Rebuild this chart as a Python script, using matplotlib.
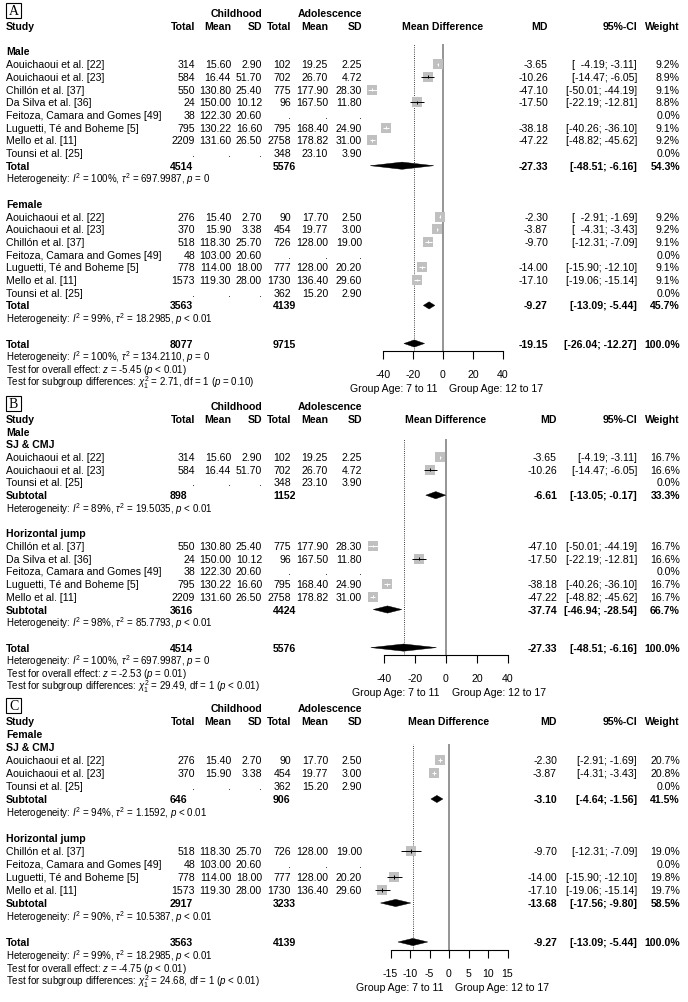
import matplotlib
matplotlib.use("Agg")
import matplotlib.pyplot as plt
from matplotlib.patches import Polygon, Rectangle

plt.rcParams['font.family'] = ['Liberation Sans', 'DejaVu Sans']
plt.rcParams['mathtext.fontset'] = 'custom'
plt.rcParams['mathtext.rm'] = 'Liberation Sans'
plt.rcParams['mathtext.it'] = 'Liberation Sans:italic'
plt.rcParams['mathtext.bf'] = 'Liberation Sans:bold'
plt.rcParams['mathtext.sf'] = 'Liberation Sans'

# ---------------------------------------------------------------- data
male_study = ["Aouichaoui et al. [22]", "Aouichaoui et al. [23]", "Chillón et al. [37]",
              "Da Silva et al. [36]", "Feitoza, Camara and Gomes [49]",
              "Luguetti, Té and Boheme [5]", "Mello et al. [11]", "Tounsi et al. [25]"]
male_c_n = [314, 584, 550, 24, 38, 795, 2209, None]
male_c_mean = [15.60, 16.44, 130.80, 150.00, 122.30, 130.22, 131.60, None]
male_c_sd = [2.90, 51.70, 25.40, 10.12, 20.60, 16.60, 26.50, None]
male_a_n = [102, 702, 775, 96, None, 795, 2758, 348]
male_a_mean = [19.25, 26.70, 177.90, 167.50, None, 168.40, 178.82, 23.10]
male_a_sd = [2.25, 4.72, 28.30, 11.80, None, 24.90, 31.00, 3.90]
male_md = [-3.65, -10.26, -47.10, -17.50, None, -38.18, -47.22, None]
male_lo = [-4.19, -14.47, -50.01, -22.19, None, -40.26, -48.82, None]
male_hi = [-3.11, -6.05, -44.19, -12.81, None, -36.10, -45.62, None]

female_study = ["Aouichaoui et al. [22]", "Aouichaoui et al. [23]", "Chillón et al. [37]",
                "Feitoza, Camara and Gomes [49]", "Luguetti, Té and Boheme [5]",
                "Mello et al. [11]", "Tounsi et al. [25]"]
female_c_n = [276, 370, 518, 48, 778, 1573, None]
female_c_mean = [15.40, 15.90, 118.30, 103.00, 114.00, 119.30, None]
female_c_sd = [2.70, 3.38, 25.70, 20.60, 18.00, 28.00, None]
female_a_n = [90, 454, 726, None, 777, 1730, 362]
female_a_mean = [17.70, 19.77, 128.00, None, 128.00, 136.40, 15.20]
female_a_sd = [2.50, 3.00, 19.00, None, 20.20, 29.60, 2.90]
female_md = [-2.30, -3.87, -9.70, None, -14.00, -17.10, None]
female_lo = [-2.91, -4.31, -12.31, None, -15.90, -19.06, None]
female_hi = [-1.69, -3.43, -7.09, None, -12.10, -15.14, None]

# Panel A (by sex)
A_male_w = [9.2, 8.9, 9.1, 8.8, 0.0, 9.1, 9.2, 0.0]
A_female_w = [9.2, 9.2, 9.1, 0.0, 9.1, 9.1, 0.0]
A_sub_cn = [4514, 3563]
A_sub_an = [5576, 4139]
A_sub_md = [-27.33, -9.27]
A_sub_lo = [-48.51, -13.09]
A_sub_hi = [-6.16, -5.44]
A_sub_w = [54.3, 45.7]
A_sub_het = [r"Heterogeneity: $I^2$ = 100%, $\tau^2$ = 697.9987, $p$ = 0",
             r"Heterogeneity: $I^2$ = 99%, $\tau^2$ = 18.2985, $p$ < 0.01"]
A_tot = [8077, 9715, -19.15, -26.04, -12.27, 100.0]
A_tests = [r"Heterogeneity: $I^2$ = 100%, $\tau^2$ = 134.2110, $p$ = 0",
           r"Test for overall effect: $z$ = -5.45 ($p$ < 0.01)",
           r"Test for subgroup differences: $\chi^2_1$ = 2.71, df = 1 ($p$ = 0.10)"]

# Panel B (male, by test)
B_sj_idx = [0, 1, 7]
B_hj_idx = [2, 3, 4, 5, 6]
B_sj_w = [16.7, 16.6, 0.0]
B_hj_w = [16.7, 16.6, 0.0, 16.7, 16.7]
B_sub_cn = [898, 3616]
B_sub_an = [1152, 4424]
B_sub_md = [-6.61, -37.74]
B_sub_lo = [-13.05, -46.94]
B_sub_hi = [-0.17, -28.54]
B_sub_w = [33.3, 66.7]
B_sub_het = [r"Heterogeneity: $I^2$ = 89%, $\tau^2$ = 19.5035, $p$ < 0.01",
             r"Heterogeneity: $I^2$ = 98%, $\tau^2$ = 85.7793, $p$ < 0.01"]
B_tot = [4514, 5576, -27.33, -48.51, -6.16, 100.0]
B_tests = [r"Heterogeneity: $I^2$ = 100%, $\tau^2$ = 697.9987, $p$ = 0",
           r"Test for overall effect: $z$ = -2.53 ($p$ = 0.01)",
           r"Test for subgroup differences: $\chi^2_1$ = 29.49, df = 1 ($p$ < 0.01)"]

# Panel C (female, by test)
C_sj_idx = [0, 1, 6]
C_hj_idx = [2, 3, 4, 5]
C_sj_w = [20.7, 20.8, 0.0]
C_hj_w = [19.0, 0.0, 19.8, 19.7]
C_sub_cn = [646, 2917]
C_sub_an = [906, 3233]
C_sub_md = [-3.10, -13.68]
C_sub_lo = [-4.64, -17.56]
C_sub_hi = [-1.56, -9.80]
C_sub_w = [41.5, 58.5]
C_sub_het = [r"Heterogeneity: $I^2$ = 94%, $\tau^2$ = 1.1592, $p$ < 0.01",
             r"Heterogeneity: $I^2$ = 90%, $\tau^2$ = 10.5387, $p$ < 0.01"]
C_tot = [3563, 4139, -9.27, -13.09, -5.44, 100.0]
C_tests = [r"Heterogeneity: $I^2$ = 99%, $\tau^2$ = 18.2985, $p$ < 0.01",
           r"Test for overall effect: $z$ = -4.75 ($p$ < 0.01)",
           r"Test for subgroup differences: $\chi^2_1$ = 24.68, df = 1 ($p$ < 0.01)"]

A_ticks = [-40, -20, 0, 20, 40]
B_ticks = [-40, -20, 0, 20, 40]
C_ticks = [-15, -10, -5, 0, 5, 10, 15]
group_left = "Group Age: 7 to 11"
group_right = "Group Age: 12 to 17"

# ---------------------------------------------------------------- figure
W, H = 688, 1003
fig = plt.figure(figsize=(W / 100, H / 100), dpi=100)
base = fig.add_axes([0, 0, 1, 1])
base.set_xlim(0, W)
base.set_ylim(H, 0)
base.axis('off')

FS = 7.6
FSH = 7.0
X_STUDY = 6
COL = dict(cn=195, cm=231, cs=262, an=291, am=328, asd=362, ci=637, w=680)
TOTX_C = 170
TOTX_A = 273


def T(x, y, s, ha='left', bold=False, size=FS):
    base.text(x, y, s, ha=ha, va='center', fontsize=size,
              fontweight='bold' if bold else 'normal', color='black')


def fnum(v, dec=2):
    if v is None:
        return "."
    return str(v) if dec == 0 else f"{v:.{dec}f}"


def fci(lo, hi, pad):
    if pad:
        return f"[{lo:6.2f}; {hi:.2f}]".replace("[ ", "[  ")
    return f"[{lo:.2f}; {hi:.2f}]"


def data_of(src):
    if src == 'male':
        return (male_study, male_c_n, male_c_mean, male_c_sd, male_a_n, male_a_mean,
                male_a_sd, male_md, male_lo, male_hi)
    return (female_study, female_c_n, female_c_mean, female_c_sd, female_a_n,
            female_a_mean, female_a_sd, female_md, female_lo, female_hi)


def draw_panel(P):
    y0, s = P['y0'], P['s']
    Y = lambda r: y0 + r * s
    mdx = P['mdx']
    # panel letter
    yb = Y(-1) - 3
    base.add_patch(Rectangle((6, yb - 7.5), 15, 15, fill=False, ec='black', lw=0.8))
    base.text(13.5, yb + 0.5, P['label'], ha='center', va='center', fontsize=10,
              family=['Liberation Serif', 'DejaVu Serif'])
    # headers
    T(COL['cs'], Y(-1), "Childhood", ha='right', bold=True)
    T(COL['asd'], Y(-1), "Adolescence", ha='right', bold=True)
    T(X_STUDY, Y(0), "Study", bold=True)
    for key, lab in [('cn', 'Total'), ('cm', 'Mean'), ('cs', 'SD'),
                     ('an', 'Total'), ('am', 'Mean'), ('asd', 'SD')]:
        T(COL[key], Y(0), lab, ha='right', bold=True)
    T(P['zero'], Y(0), "Mean Difference", ha='center', bold=True)
    T(mdx, Y(0), "MD", ha='right', bold=True)
    T(COL['ci'], Y(0), "95%-CI", ha='right', bold=True)
    T(COL['w'], Y(0), "Weight", ha='right', bold=True)
    if P['title']:
        T(X_STUDY, Y(1), P['title'], bold=True)

    marks = []   # (row, kind, md, lo, hi, w)
    r = 2
    for g in P['groups']:
        T(X_STUDY, Y(r), g['title'], bold=True)
        r += 1
        st, cn, cm, cs, an, am, asd, md, lo, hi = data_of(g['src'])
        for k, i in enumerate(g['idx']):
            y = Y(r)
            T(X_STUDY, y, st[i])
            T(COL['cn'], y, fnum(cn[i], 0), ha='right')
            T(COL['cm'], y, fnum(cm[i]), ha='right')
            T(COL['cs'], y, fnum(cs[i]), ha='right')
            T(COL['an'], y, fnum(an[i], 0), ha='right')
            T(COL['am'], y, fnum(am[i]), ha='right')
            T(COL['asd'], y, fnum(asd[i]), ha='right')
            if md[i] is not None:
                T(mdx, y, f"{md[i]:.2f}", ha='right')
                T(COL['ci'], y, fci(lo[i], hi[i], P['pad']), ha='right')
                marks.append((r, 'sq', md[i], lo[i], hi[i], g['w'][k]))
            T(COL['w'], y, f"{g['w'][k]:.1f}%", ha='right')
            r += 1
        y = Y(r)
        T(X_STUDY, y, g['lab'], bold=True)
        T(TOTX_C, y, str(g['cn']), bold=True)
        T(TOTX_A, y, str(g['an']), bold=True)
        T(mdx, y, f"{g['md']:.2f}", ha='right', bold=True)
        T(COL['ci'], y, fci(g['lo'], g['hi'], P['pad']), ha='right', bold=True)
        T(COL['w'], y, f"{g['wt']:.1f}%", ha='right', bold=True)
        marks.append((r, 'dm', g['md'], g['lo'], g['hi'], g['wt']))
        r += 1
        T(X_STUDY, Y(r), g['het'], size=FSH)
        r += 2
    # overall
    tcn, tan_, tmd, tlo, thi, tw = P['tot']
    r_tot = r
    y = Y(r)
    T(X_STUDY, y, "Total", bold=True)
    T(TOTX_C, y, str(tcn), bold=True)
    T(TOTX_A, y, str(tan_), bold=True)
    T(mdx, y, f"{tmd:.2f}", ha='right', bold=True)
    T(COL['ci'], y, fci(tlo, thi, P['pad']), ha='right', bold=True)
    T(COL['w'], y, f"{tw:.1f}%", ha='right', bold=True)
    marks.append((r, 'dm', tmd, tlo, thi, tw))
    for j, line in enumerate(P['tests']):
        T(X_STUDY, Y(r + 1 + j), line, size=FSH)

    # forest axes
    r_top = P['line_top']
    r_axis = r_tot + P['axis_off']
    ppu = P['ppu']
    xmin, xmax = P['xlim']
    left = (P['zero'] + xmin * ppu) / W
    width = (xmax - xmin) * ppu / W
    ytop, ybot = Y(r_top), Y(r_axis)
    ax = fig.add_axes([left, 1 - ybot / H, width, (ybot - ytop) / H])
    ax.set_xlim(xmin, xmax)
    ax.set_ylim(r_axis, r_top)
    ax.patch.set_alpha(0)
    for sp in ['top', 'left', 'right']:
        ax.spines[sp].set_visible(False)
    ax.spines['bottom'].set_bounds(P['ticks'][0], P['ticks'][-1])
    ax.spines['bottom'].set_linewidth(0.8)
    ax.set_yticks([])
    ax.set_xticks(P['ticks'])
    ax.set_xticklabels([str(t) for t in P['ticks']])
    ax.tick_params(axis='x', direction='out', length=6, width=0.8, pad=7,
                   labelsize=FS)
    ax.axvline(0, color='#8c8c8c', lw=1.3, zorder=1)
    ax.axvline(tmd, color='black', lw=0.6, ls=(0, (1, 1.6)), zorder=1)
    wmax = max(m[5] for m in marks if m[1] == 'sq')
    hh = P['dh'] / s
    for (rr, kind, md, lo, hi, w) in marks:
        if kind == 'sq':
            side = P['sq'] * (w / wmax) ** 0.5
            ax.plot([md], [rr], marker='s', ms=side * 0.72, mew=0, color='#c0c0c0',
                    zorder=3, clip_on=False)
            inside = (hi - lo) * ppu < side
            c = 'white' if inside else 'black'
            ax.plot([lo, hi], [rr, rr], color=c, lw=0.7, zorder=4, clip_on=False,
                    solid_capstyle='butt')
            tk = 0.3 * side / s
            ax.plot([md, md], [rr - tk / 2, rr + tk / 2], color=c, lw=0.7, zorder=4,
                    clip_on=False, solid_capstyle='butt')
        else:
            ax.add_patch(Polygon([[lo, rr], [md, rr - hh], [hi, rr], [md, rr + hh]],
                                 closed=True, fc='black', ec='black', lw=0.3,
                                 zorder=5, clip_on=False))
    yg = Y(r_tot + P['group_off'])
    T(P['zero'] - 6, yg, group_left, ha='right')
    T(P['zero'] + 6, yg, group_right, ha='left')


panelA = dict(label='A', y0=27, s=12.7, zero=443, ppu=1.5, xlim=(-62, 62),
              ticks=A_ticks, mdx=548, pad=True, title=None, sq=9.5, dh=3.6,
              line_top=1.4, axis_off=0.6, group_off=3.5, tot=A_tot, tests=A_tests,
              groups=[dict(title='Male', src='male', idx=list(range(8)), w=A_male_w,
                           lab='Total', cn=A_sub_cn[0], an=A_sub_an[0], md=A_sub_md[0],
                           lo=A_sub_lo[0], hi=A_sub_hi[0], wt=A_sub_w[0], het=A_sub_het[0]),
                      dict(title='Female', src='female', idx=list(range(7)), w=A_female_w,
                           lab='Total', cn=A_sub_cn[1], an=A_sub_an[1], md=A_sub_md[1],
                           lo=A_sub_lo[1], hi=A_sub_hi[1], wt=A_sub_w[1], het=A_sub_het[1])])

panelB = dict(label='B', y0=420, s=12.7, zero=446, ppu=1.55, xlim=(-62, 62),
              ticks=B_ticks, mdx=557, pad=False, title='Male', sq=9.5, dh=3.6,
              line_top=1.6, axis_off=0.6, group_off=3.5, tot=B_tot, tests=B_tests,
              groups=[dict(title='SJ & CMJ', src='male', idx=B_sj_idx, w=B_sj_w,
                           lab='Subtotal', cn=B_sub_cn[0], an=B_sub_an[0], md=B_sub_md[0],
                           lo=B_sub_lo[0], hi=B_sub_hi[0], wt=B_sub_w[0], het=B_sub_het[0]),
                      dict(title='Horizontal jump', src='male', idx=B_hj_idx, w=B_hj_w,
                           lab='Subtotal', cn=B_sub_cn[1], an=B_sub_an[1], md=B_sub_md[1],
                           lo=B_sub_lo[1], hi=B_sub_hi[1], wt=B_sub_w[1], het=B_sub_het[1])])

panelC = dict(label='C', y0=722, s=13.0, zero=449, ppu=3.9, xlim=(-22, 22),
              ticks=C_ticks, mdx=557, pad=False, title='Female', sq=10.5, dh=3.6,
              line_top=1.8, axis_off=0.6, group_off=3.5, tot=C_tot, tests=C_tests,
              groups=[dict(title='SJ & CMJ', src='female', idx=C_sj_idx, w=C_sj_w,
                           lab='Subtotal', cn=C_sub_cn[0], an=C_sub_an[0], md=C_sub_md[0],
                           lo=C_sub_lo[0], hi=C_sub_hi[0], wt=C_sub_w[0], het=C_sub_het[0]),
                      dict(title='Horizontal jump', src='female', idx=C_hj_idx, w=C_hj_w,
                           lab='Subtotal', cn=C_sub_cn[1], an=C_sub_an[1], md=C_sub_md[1],
                           lo=C_sub_lo[1], hi=C_sub_hi[1], wt=C_sub_w[1], het=C_sub_het[1])])

for P in (panelA, panelB, panelC):
    draw_panel(P)

fig.savefig("out.png", dpi=100)
